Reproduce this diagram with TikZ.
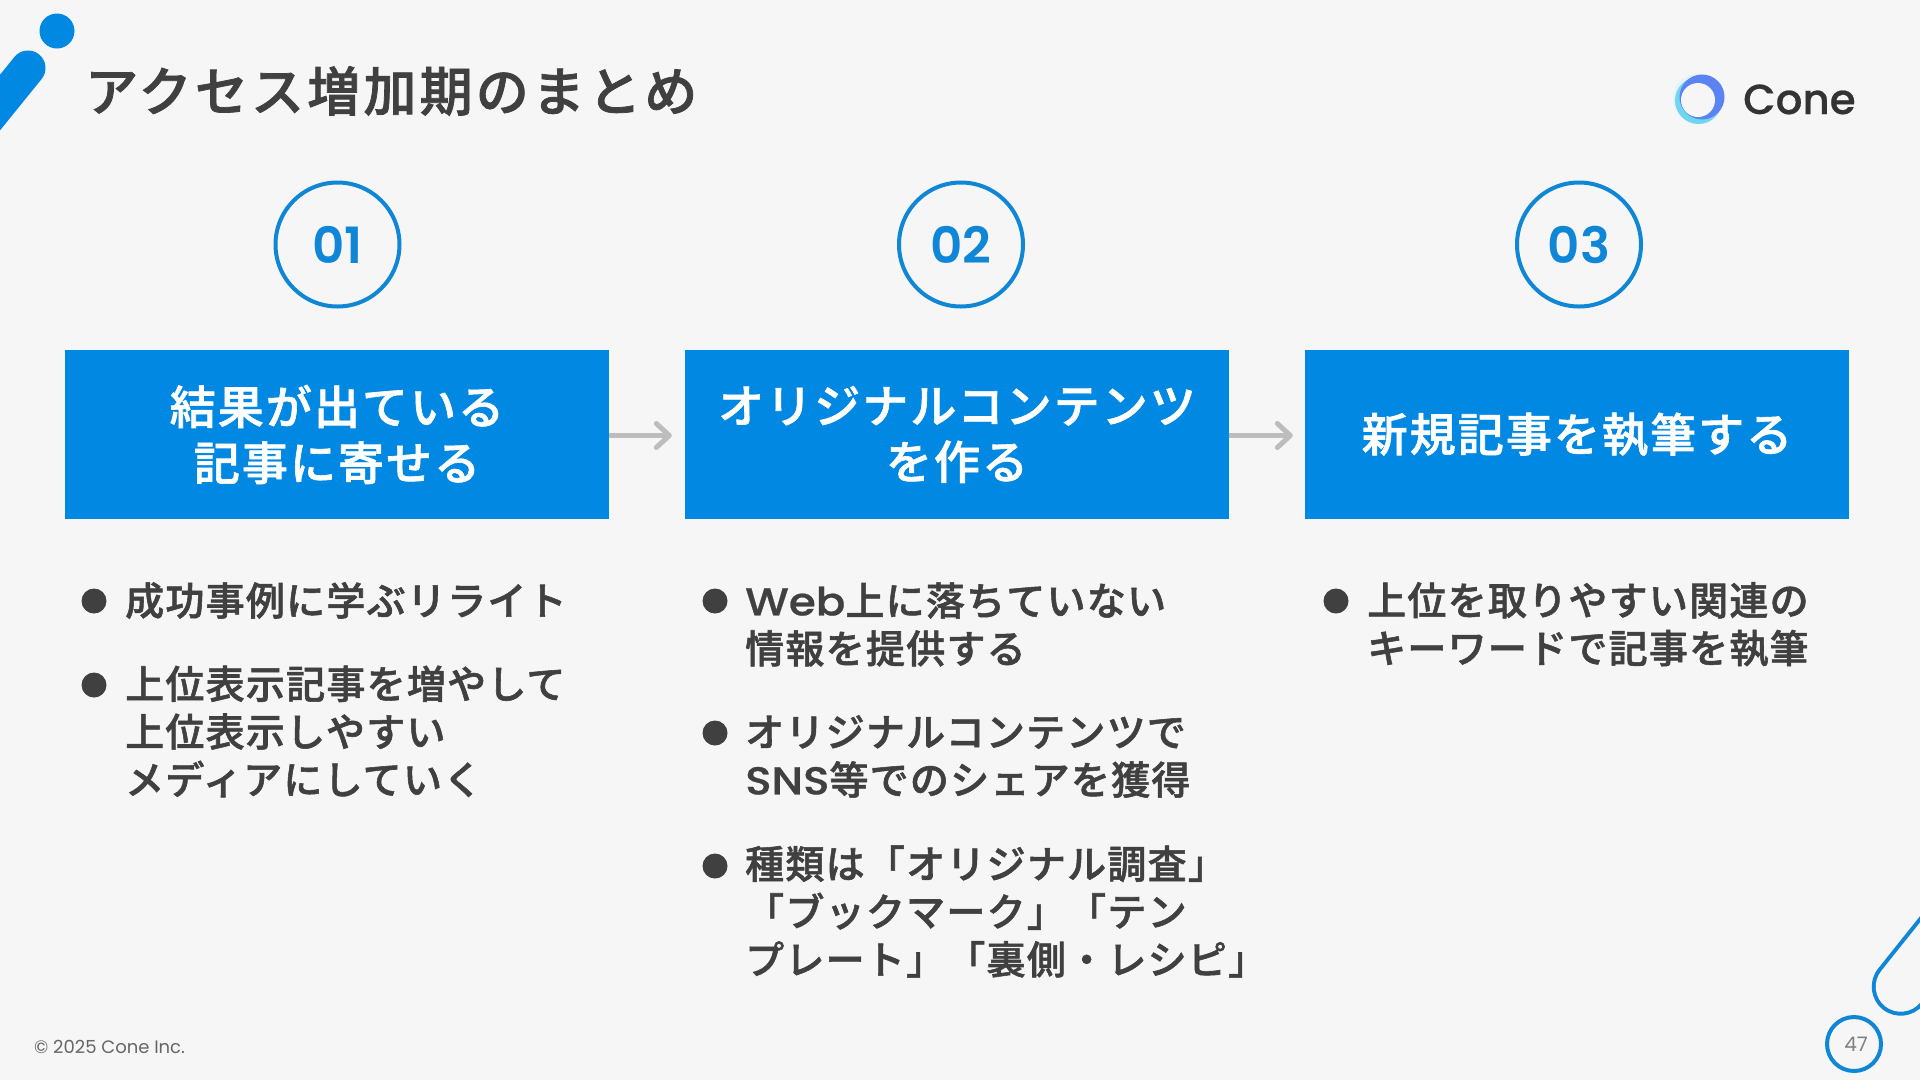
\documentclass[tikz,border=0pt]{standalone}
\usepackage{fontspec}
\usetikzlibrary{arrows.meta}
\setmainfont{Noto Sans CJK JP}
\newfontfamily\jpt{Noto Sans CJK JP Medium}[LetterSpace=6,FakeBold=1.4]
\newfontfamily\jph{Noto Sans CJK JP Medium}[LetterSpace=4.5,FakeBold=1.4]
\newfontfamily\jpb{Noto Sans CJK JP Medium}[LetterSpace=3.2,FakeBold=1.4]
\newfontfamily\lat{Poppins}
\newfontfamily\latsb{Poppins Medium}[FakeStretch=1.12,FakeBold=0.6]
\newfontfamily\latnum{Poppins SemiBold}
\newfontfamily\latmed{Poppins Medium}[FakeBold=0.5]
\newcommand{\latb}[1]{{\latsb #1}}
\definecolor{bgc}{HTML}{F6F6F6}
\definecolor{bluec}{HTML}{0088E2}
\definecolor{ringc}{HTML}{0F86D6}
\definecolor{darkc}{HTML}{404040}
\definecolor{arrowc}{HTML}{BDBDBD}
\definecolor{logob}{HTML}{5B84F2}
\definecolor{logoc}{HTML}{6FD6F0}
\definecolor{logop}{HTML}{E6F3FB}
\tikzset{
  hdr/.style={rectangle,fill=bluec,text=white,inner sep=0pt,minimum width=544pt,minimum height=169pt,align=center,font=\fontsize{46}{56}\selectfont\jph},
  numc/.style={circle,draw=ringc,line width=4pt,fill=none,minimum size=124pt,inner sep=0pt,text=ringc,font=\fontsize{50}{50}\selectfont\latnum},
  dot/.style={circle,fill=darkc,minimum size=25pt,inner sep=0pt},
  txt/.style={anchor=west,inner sep=0pt,align=left,text=darkc,font=\fontsize{39}{47.8}\selectfont\jpb},
  flow/.style={draw=arrowc,line width=5pt,-{Straight Barb[length=13pt,width=24pt,line cap=round,round]}}
}
\begin{document}
\begin{tikzpicture}[x=1pt,y=-1pt]
\useasboundingbox (0,0) rectangle (1920,1080);
\clip (0,0) rectangle (1920,1080);
\fill[bgc] (0,0) rectangle (1920,1080);
% decoration top-left
\fill[bluec] (57,31) circle (17.5);
\draw[bluec,line width=35pt,line cap=round] (28,68) -- (-40,152);
% decoration bottom-right
\draw[ringc,line width=58pt,line cap=round] (1900.7,986.7) -- (1990,875);
\draw[bgc,line width=50pt,line cap=round] (1900.7,986.7) -- (1990,875);
% title
\node[anchor=west,inner sep=0pt,text=darkc,font=\fontsize{53}{53}\selectfont\jpt] (title) at (85,91) {アクセス増加期のまとめ};
% logo
\fill[logop] (1698,98.5) circle (25);
\fill[logoc] (1698.5,100.5) circle (23.5);
\fill[logob] (1702,97) circle (22.5);
\fill[bgc] (1698,100) circle (17);
\node[anchor=base west,inner sep=0pt,text=black!80,font=\fontsize{42}{42}\selectfont\latmed] (cone) at (1743,114) {Cone};
% numbered circles
\node[numc] (n1) at (337.5,244.5) {01};
\node[numc] (n2) at (961,244.5) {02};
\node[numc] (n3) at (1579,244.5) {03};
% header boxes
\node[hdr] (b1) at (337,434.5) {結果が出ている\\記事に寄せる};
\node[hdr] (b2) at (957,434.5) {オリジナルコンテンツ\\を作る};
\node[hdr] (b3) at (1577,434.5) {新規記事を執筆する};
\draw[flow,shorten >=13pt] ([yshift=-1pt]b1.east) -- ([yshift=-1pt]b2.west);
\draw[flow,shorten >=12pt] ([yshift=-1pt]b2.east) -- ([yshift=-1pt]b3.west);
% column 1
\node[dot] (d11) at (94,601) {};
\node[txt] (t11) at (125,600.5) {成功事例に学ぶリライト};
\node[dot] (d12) at (94,685) {};
\node[txt] (t12) at (125,731.5) {上位表示記事を増やして\\上位表示しやすい\\メディアにしていく};
% column 2
\node[dot] (d21) at (715,601) {};
\node[txt] (t21) at (745,624.5) {\latb{Web}上に落ちていない\\情報を提供する};
\node[dot] (d22) at (715,733) {};
\node[txt] (t22) at (745,756.5) {オリジナルコンテンツで\\\latb{SNS}等でのシェアを獲得};
\node[dot] (d23) at (715,866) {};
\node[txt] (t23) at (745,911.5) {種類は「オリジナル調査」\\「ブックマーク」「テン\\プレート」「裏側・レシピ」};
% column 3
\node[dot] (d31) at (1336,601) {};
\node[txt] (t31) at (1367,624.5) {上位を取りやすい関連の\\キーワードで記事を執筆};
% footer
\node[anchor=west,inner sep=0pt,text=black!60,font=\fontsize{18}{18}\selectfont\lat] (foot) at (34,1046.5) {© 2025 Cone Inc.};
\node[circle,draw=ringc,line width=4pt,minimum size=54pt,inner sep=0pt,text=black!50,font=\fontsize{20}{20}\selectfont\lat] (pg) at (1854,1044) {\hspace{4pt}\raisebox{-2.5pt}{47}};
\end{tikzpicture}
\end{document}
